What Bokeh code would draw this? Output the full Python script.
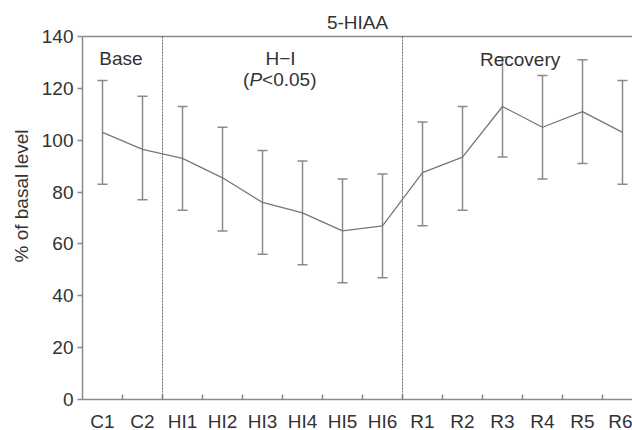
from bokeh.plotting import figure
from bokeh.models import (ColumnDataSource, Whisker, TeeHead, Span, Label,
                          LinearAxis, FixedTicker, Range1d, Title)
from bokeh.embed import file_html
from bokeh.resources import INLINE

# ---- data ----
categories = ["C1", "C2", "HI1", "HI2", "HI3", "HI4", "HI5", "HI6",
              "R1", "R2", "R3", "R4", "R5", "R6"]
means = [103, 96.5, 93, 85.5, 76, 72, 65, 67, 87.5, 93.5, 113, 105, 111, 103]
upper = [123, 117, 113, 105, 96, 92, 85, 87, 107, 113, 132, 125, 131, 123]
lower = [83, 77, 73, 65, 56, 52, 45, 47, 67, 73, 93.5, 85, 91, 83]
phase_boundaries = [2, 8]
y_ticks = [0, 20, 40, 60, 80, 100, 120, 140]

FONT = "Liberation Sans"
TXT = "#333333"
GREY = "#8a8a8a"
FS = "19px"

x_centers = [i + 0.5 for i in range(len(categories))]
src = ColumnDataSource(dict(x=x_centers, m=means, up=upper, lo=lower))

p = figure(frame_width=550, frame_height=363, output_backend="svg",
           toolbar_location=None,
           x_range=Range1d(0, 13.75), y_range=Range1d(0, 140),
           min_border_left=82, min_border_right=0, min_border_top=36,
           min_border_bottom=31, x_axis_location=None, y_axis_location=None)
p.outline_line_color = None
p.grid.visible = False
p.background_fill_color = "white"
p.border_fill_color = "white"

# left axis
yax = LinearAxis(ticker=FixedTicker(ticks=y_ticks))
yax.axis_line_color = GREY
yax.axis_line_width = 1.5
yax.major_tick_line_color = GREY
yax.major_tick_line_width = 1.5
yax.major_tick_in = 0
yax.major_tick_out = 5
yax.minor_tick_line_color = None
yax.major_label_standoff = 4
yax.major_label_text_font = FONT
yax.major_label_text_font_size = FS
yax.major_label_text_color = TXT
p.add_layout(yax, "left")

# y-axis title, placed along the left side
ytitle = Title(text="% of basal level", align="left", offset=137,
               text_font=FONT, text_font_size=FS, text_font_style="normal",
               text_color=TXT, standoff=14)
p.add_layout(ytitle, "left")

# bottom axis: labels at centres, small ticks at category boundaries
xax = LinearAxis(ticker=FixedTicker(ticks=x_centers,
                                    minor_ticks=list(range(1, len(categories)))))
xax.major_label_overrides = {c: n for c, n in zip(x_centers, categories)}
xax.axis_line_color = GREY
xax.axis_line_width = 1.5
xax.major_tick_line_color = None
xax.major_tick_in = 0
xax.major_tick_out = 0
xax.minor_tick_line_color = GREY
xax.minor_tick_line_width = 1.5
xax.minor_tick_in = 5
xax.minor_tick_out = 0
xax.major_label_standoff = 11
xax.major_label_text_font = FONT
xax.major_label_text_font_size = FS
xax.major_label_text_color = TXT
p.add_layout(xax, "below")

# top axis: plain line with title
tax = LinearAxis(ticker=FixedTicker(ticks=[]), axis_label="5-HIAA")
tax.axis_line_color = GREY
tax.axis_line_width = 1.5
tax.major_tick_line_color = None
tax.minor_tick_line_color = None
tax.major_label_text_font_size = "0px"
tax.axis_label_text_font = FONT
tax.axis_label_text_font_size = FS
tax.axis_label_text_font_style = "normal"
tax.axis_label_text_color = TXT
tax.axis_label_standoff = 4
p.add_layout(tax, "above")

# phase separators
for b in phase_boundaries:
    p.add_layout(Span(location=b, dimension="height", line_color="#666666",
                      line_width=1, line_dash="2 1"))

# error bars
wh = Whisker(source=src, base="x", upper="up", lower="lo",
             line_color=GREY, line_width=1.5,
             upper_head=TeeHead(size=10, line_color=GREY, line_width=1.5),
             lower_head=TeeHead(size=10, line_color=GREY, line_width=1.5))
p.add_layout(wh)

# mean line
p.line("x", "m", source=src, line_color="#777777", line_width=1.3)

def lab(text, x, y, xoff=0, align="center", style="normal"):
    p.add_layout(Label(x=x, y=y, text=text, x_offset=xoff, text_align=align,
                       text_baseline="middle", text_font=FONT,
                       text_font_size=FS, text_color=TXT,
                       text_font_style=style))

lab("Base", 0.96, 131.5)
lab("H\u2212I", 4.95, 131.5)
lab("(", 4.94, 123.4, xoff=-37, align="left")
lab("P", 4.94, 123.4, xoff=-30.5, align="left", style="italic")
lab("<0.05)", 4.94, 123.4, xoff=-18, align="left")
lab("Recovery", 10.94, 131)

open("out.html", "w").write(file_html(p, INLINE))
